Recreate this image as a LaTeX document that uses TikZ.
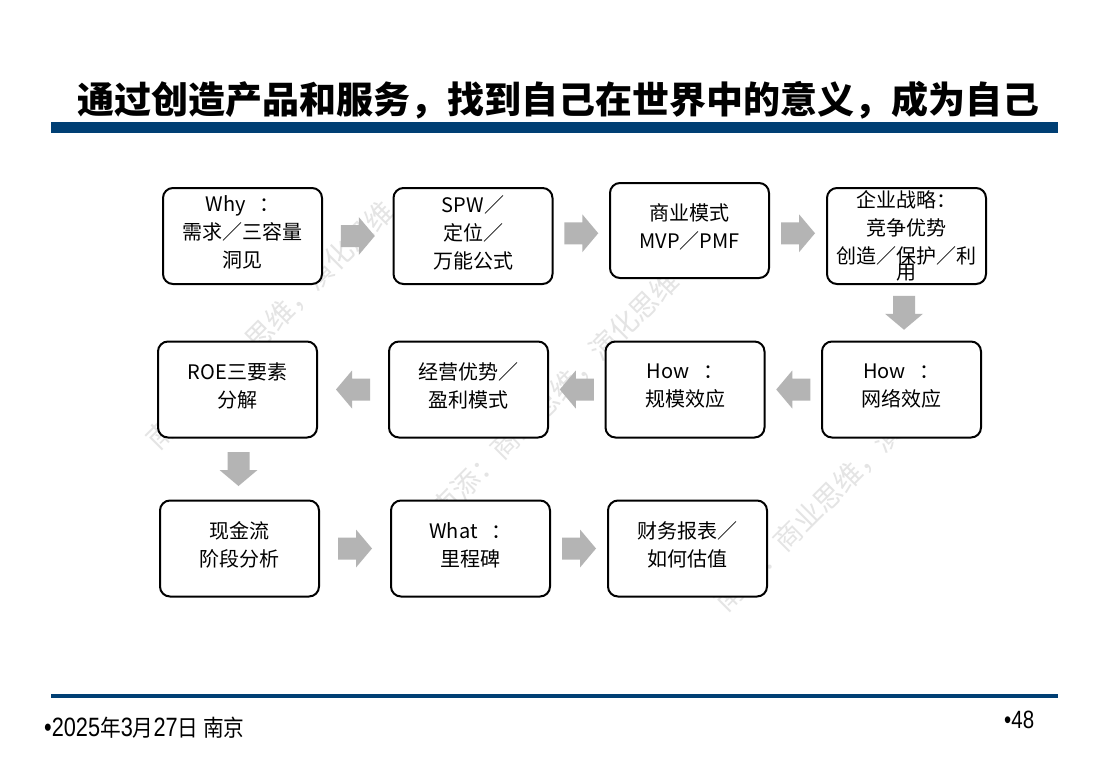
\documentclass[tikz,border=0pt]{standalone}
\usepackage{fontspec}
\setmainfont{Noto Sans CJK SC}
\newfontfamily\footlat{Liberation Sans}[FakeStretch=0.82]
\newfontfamily\footcjk{Noto Sans CJK SC}[FakeStretch=0.9]
\usetikzlibrary{calc}
\definecolor{barblue}{RGB}{0,63,116}
\definecolor{arrgray}{RGB}{180,180,180}
\definecolor{wmgray}{RGB}{228,228,228}
\newcommand{\liftup}{\\[-20pt]\rule{0pt}{0pt}}
\begin{document}
\begin{tikzpicture}[x=1pt,y=-1pt,
  box/.style={draw=black, line width=2pt, rounded corners=10pt, fill=white,
    minimum width=159pt, minimum height=96pt, inner sep=0pt, outer sep=0pt,
    align=center, font=\fontsize{20}{28}\selectfont},
  blockarr/.pic={\fill[arrgray] (-17,-11) -- (1,-11) -- (1,-19) -- (17,0)
    -- (1,19) -- (1,11) -- (-17,11) -- cycle;},
  wm/.style={text=wmgray, rotate=45, font=\fontsize{28}{28}\selectfont, inner sep=0pt},
  ]
\useasboundingbox[fill=white] (0,0) rectangle (1107,776);

% title and rules
\node[inner sep=0pt, font=\bfseries\fontsize{37}{37}\selectfont] (title) at (558,100)
  {通过创造产品和服务，找到自己在世界中的意义，成为自己};
\fill[barblue] (51,122) rectangle (1058,133);
\fill[barblue] (51,694) rectangle (1058,697.5);

% watermark
\node[wm] (wmA) at (270,325) {南添：商业思维，演化思维};
\node[wm] (wmB) at (555,395) {南添：商业思维，演化思维};
\node[wm] (wmC) at (838,487) {南添：商业思维，演化思维};

% boxes
\node[box] (b1) at (242.5,236) {Why\hspace{14pt}：\\需求／三容量\\洞见\liftup};
\node[box] (b2) at (473,236) {SPW／\\定位／\\万能公式\liftup};
\node[box, minimum height=95pt] (b3) at (689.5,230.5) {商业模式\\MVP／PMF\liftup};
\node[box] (b4) at (906.5,236) {企业战略：\\竞争优势\\创造／保护／利\\[-12pt]用};
\node[box] (b5) at (237.5,389.5) {ROE三要素\\分解\liftup};
\node[box] (b6) at (468.5,389.5) {经营优势／\\盈利模式\liftup};
\node[box] (b7) at (685,389.5) {How\hspace{14pt}：\\规模效应\liftup};
\node[box] (b8) at (901.5,389.5) {How\hspace{14pt}：\\网络效应\liftup};
\node[box] (b9) at (239.5,548.5) {现金流\\阶段分析\liftup};
\node[box] (b10) at (470.5,548.5) {What\hspace{14pt}：\\里程碑\liftup};
\node[box] (b11) at (687.5,548.5) {财务报表／\\如何估值\liftup};

% block arrows between boxes
\coordinate (m1) at ($(b1.east)!0.5!(b2.west)$);
\coordinate (m2) at ($(b2.east)!0.5!(b3.west)$);
\coordinate (m3) at ($(b3.east)!0.5!(b4.west)$);
\coordinate (m4) at ($(b4.south)!0.5!(b8.north)$);
\coordinate (m5) at ($(b8.west)!0.5!(b7.east)$);
\coordinate (m6) at ($(b7.west)!0.5!(b6.east)$);
\coordinate (m7) at ($(b6.west)!0.5!(b5.east)$);
\coordinate (m8) at ($(b5.south)!0.5!(b9.north)$);
\coordinate (m9) at ($(b9.east)!0.5!(b10.west)$);
\coordinate (m10) at ($(b10.east)!0.5!(b11.west)$);
\pic at (m1) {blockarr};
\pic at (m2) {blockarr};
\pic at (m3) {blockarr};
\pic[rotate=-90] at (m4) {blockarr};
\pic[rotate=180] at (m5) {blockarr};
\pic[rotate=180] at (m6) {blockarr};
\pic[rotate=180] at (m7) {blockarr};
\pic[rotate=-90] at (m8) {blockarr};
\pic at (m9) {blockarr};
\pic at (m10) {blockarr};

% footer
\node[anchor=base west, inner sep=0pt] (date) at (44,736)
  {{\footlat\fontsize{26.5}{26.5}\selectfont •2025}{\footcjk\fontsize{23}{23}\selectfont 年}{\footlat\fontsize{26.5}{26.5}\selectfont 3}{\footcjk\fontsize{23}{23}\selectfont 月}{\footlat\fontsize{26.5}{26.5}\selectfont 27}{\footcjk\fontsize{23}{23}\selectfont 日 南京}};
\node[anchor=base west, inner sep=0pt, font=\footlat\fontsize{25}{25}\selectfont] (page) at (1004,728)
  {•48};
\end{tikzpicture}
\end{document}
